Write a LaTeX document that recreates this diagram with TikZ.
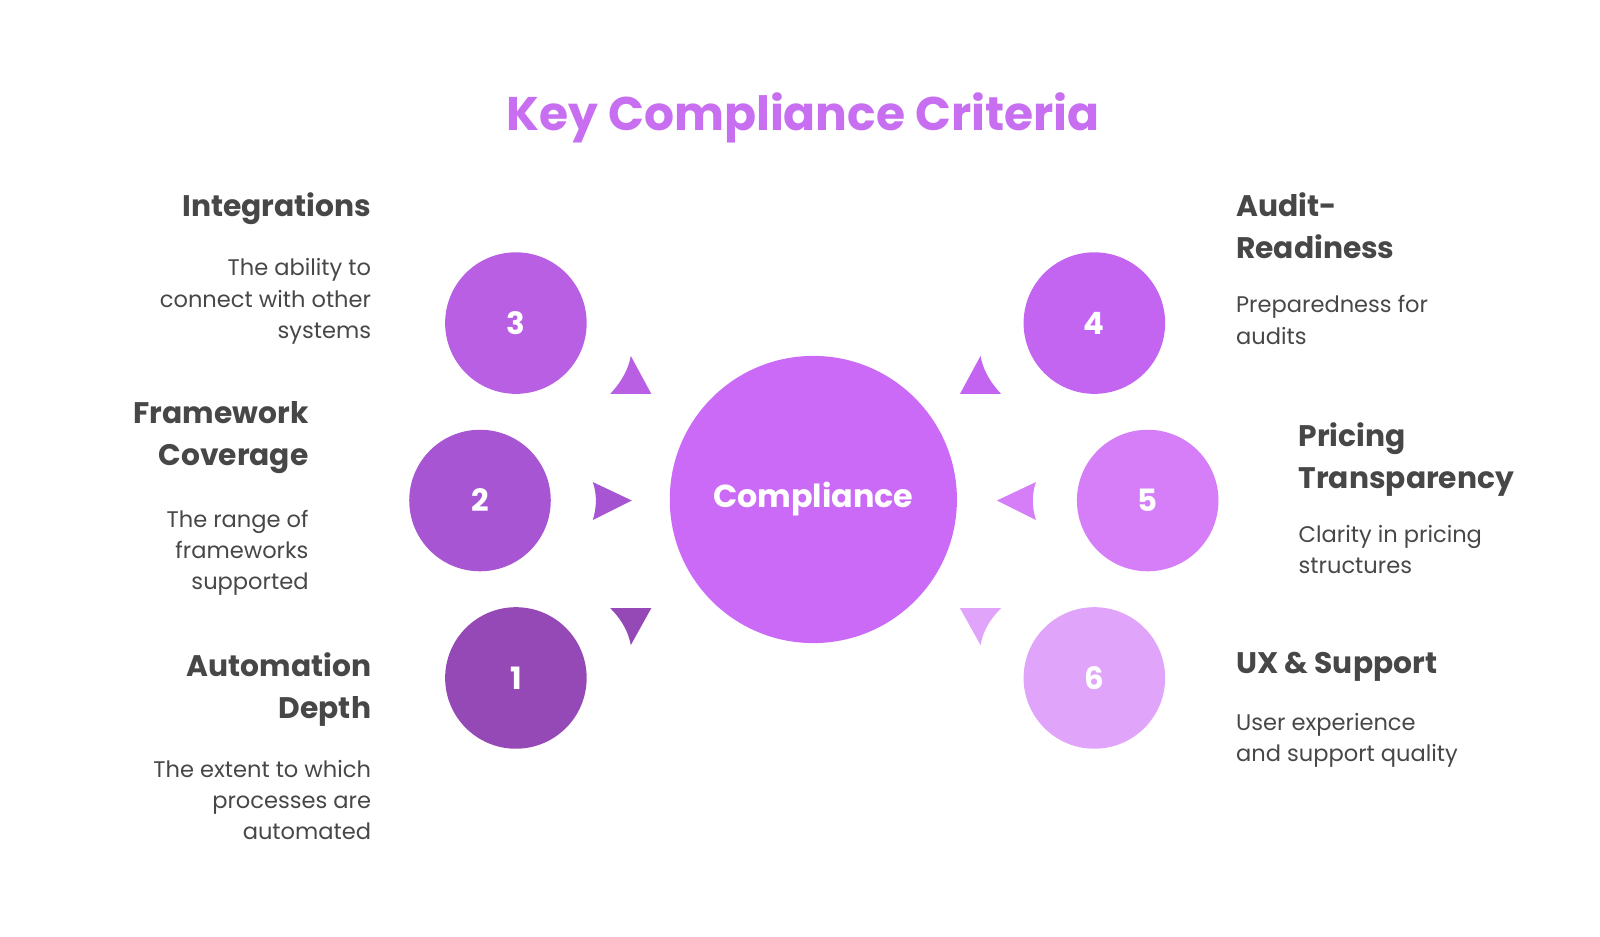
\documentclass[tikz,border=0pt]{standalone}
\usepackage{fontspec}
\setmainfont{Poppins}
\definecolor{txt}{HTML}{474747}
\definecolor{ttl}{HTML}{C86EF0}
\definecolor{cc}{HTML}{CB6AF7}
\definecolor{ca}{HTML}{9549B6}
\definecolor{cb}{HTML}{A855D3}
\definecolor{cd}{HTML}{B85FE3}
\definecolor{ce}{HTML}{C465F2}
\definecolor{cf}{HTML}{D57EF8}
\definecolor{cg}{HTML}{E0A4FB}
\begin{document}
\begin{tikzpicture}[x=1pt,y=-1pt,
  numc/.style={circle,minimum size=138pt,inner sep=0pt,text=white,font=\fontsize{30}{30}\selectfont\bfseries},
  head/.style={text=txt,font=\fontsize{29}{41}\selectfont\bfseries,inner sep=0pt},
  desc/.style={text=txt,font=\fontsize{22}{30.5}\selectfont,inner sep=0pt},
  headL/.style={head,anchor=north east,align=right},
  descL/.style={desc,anchor=north east,align=right},
  headR/.style={head,anchor=north west,align=left},
  descR/.style={desc,anchor=north west,align=left}]
\useasboundingbox (0,0) rectangle (1560,912.6);
\node (title) at (783,115) {\fontsize{46}{46}\selectfont\bfseries\color{ttl}Key Compliance Criteria};
\node[circle,fill=cc,minimum size=280pt,inner sep=0pt,text=white,font=\fontsize{31}{31}\selectfont\bfseries] (c) at (793,487) {Compliance};
\node[numc,fill=cd] (n3) at (503,315) {3};
\node[numc,fill=ce] (n4) at (1067,315) {4};
\node[numc,fill=cb] (n2) at (468,488) {2};
\node[numc,fill=cf] (n5) at (1119,488) {5};
\node[numc,fill=ca] (n1) at (503,661) {1};
\node[numc,fill=cg] (n6) at (1067,661) {6};
\fill[cd] (595,384) .. controls (608,370) and (613,358) .. (615,347) -- (635,384) -- cycle;
\fill[ce] (936,384) -- (956,347) .. controls (958,358) and (963,370) .. (976,384) -- cycle;
\fill[cb] (578,470) .. controls (582,482) and (582,494) .. (578,507) -- (616,488) -- cycle;
\fill[cf] (1010,470) .. controls (1006,482) and (1006,494) .. (1010,507) -- (972,488) -- cycle;
\fill[ca] (595,593) -- (635,593) -- (615,629) .. controls (613,618) and (608,606) .. (595,593) -- cycle;
\fill[cg] (936,593) -- (976,593) .. controls (963,606) and (958,618) .. (956,629) -- cycle;
\node[headL] (h3) at (362,188) {Integrations};
\node[descL] (d3) at (362,252) {The ability to\\connect with other\\systems};
\node[headL] (h2) at (301,391) {Framework\\Coverage};
\node[descL] (d2) at (301,497) {The range of\\frameworks\\supported};
\node[headL] (h1) at (362,636) {Automation\\Depth};
\node[descL] (d1) at (362,741) {The extent to which\\processes are\\automated};
\node[headR] (h4) at (1205,188) {Audit-\\Readiness};
\node[descR] (d4) at (1205,288) {Preparedness for\\audits};
\node[headR] (h5) at (1266,412) {Pricing\\Transparency};
\node[descR] (d5) at (1266,512) {Clarity in pricing\\structures};
\node[headR] (h6) at (1205,636) {UX \& Support};
\node[descR] (d6) at (1205,695) {User experience\\and support quality};
\end{tikzpicture}
\end{document}
